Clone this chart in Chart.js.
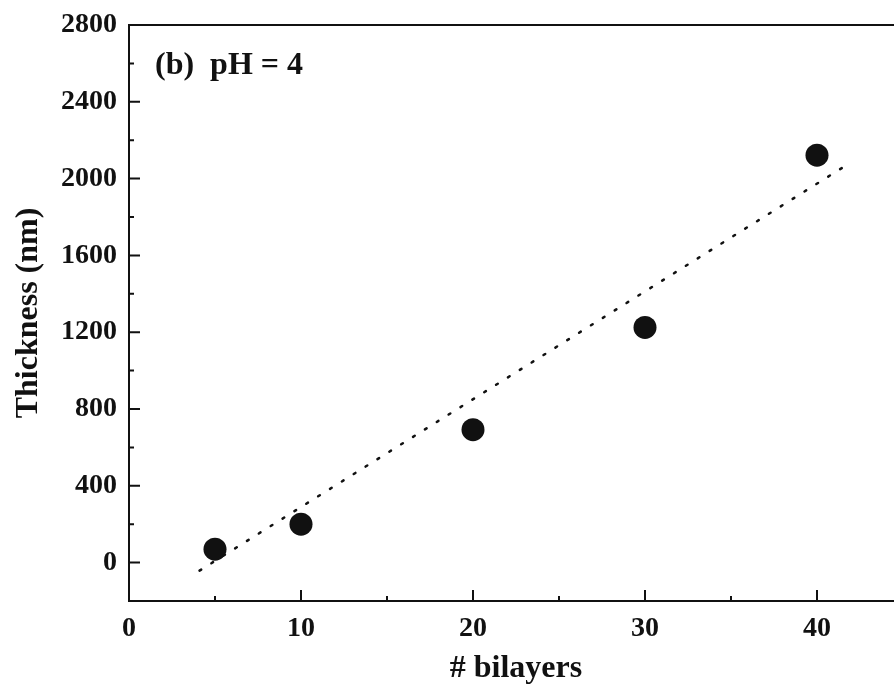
<!DOCTYPE html>
<html lang="en">
<head>
<meta charset="UTF-8">
<title>Thickness vs bilayers</title>
<script src="https://cdn.jsdelivr.net/npm/chart.js@4"></script>
<style>
  html, body { margin: 0; padding: 0; background: #fff; overflow: hidden; }
  .wrap { width: 920px; height: 688px; position: relative; }
</style>
</head>
<body>
<div class="wrap"><canvas id="chart"></canvas></div>
<script>
// data
const bilayers = [5, 10, 20, 30, 40];
const thickness = [70, 200, 692, 1225, 2122];
const fitX = [4.1, 41.8];
const fitY = [-42, 2075];

const xTicks = [0, 10, 20, 30, 40];
const xMinor = [5, 15, 25, 35];
const yTicks = [0, 400, 800, 1200, 1600, 2000, 2400, 2800];
const yMinor = [-200, 200, 600, 1000, 1400, 1800, 2200, 2600];

const ink = '#111';
const serif = "'Liberation Serif', 'Times New Roman', serif";

// frame + inward ticks
const framePlugin = {
  id: 'frame',
  afterDraw(chart) {
    const { ctx, chartArea: a, scales: { x, y } } = chart;
    ctx.save();
    ctx.strokeStyle = ink;
    ctx.lineWidth = 2;
    ctx.strokeRect(a.left, a.top, a.right - a.left, a.bottom - a.top);
    ctx.beginPath();
    xTicks.forEach(v => { const px = x.getPixelForValue(v); ctx.moveTo(px, a.bottom); ctx.lineTo(px, a.bottom - 11); });
    xMinor.forEach(v => { const px = x.getPixelForValue(v); ctx.moveTo(px, a.bottom); ctx.lineTo(px, a.bottom - 5); });
    yTicks.forEach(v => { const py = y.getPixelForValue(v); ctx.moveTo(a.left, py); ctx.lineTo(a.left + 11, py); });
    yMinor.forEach(v => { const py = y.getPixelForValue(v); ctx.moveTo(a.left, py); ctx.lineTo(a.left + 5, py); });
    ctx.stroke();
    // panel label
    ctx.fillStyle = ink;
    ctx.font = 'bold 32px ' + serif;
    ctx.textBaseline = 'alphabetic';
    ctx.fillText('(b)  pH = 4', a.left + 26, a.top + 49);
    ctx.restore();
  }
};

new Chart(document.getElementById('chart'), {
  type: 'scatter',
  data: {
    datasets: [
      {
        type: 'line',
        data: fitX.map((v, i) => ({ x: v, y: fitY[i] })),
        borderColor: ink,
        borderWidth: 2.5,
        borderDash: [2, 12],
        borderCapStyle: 'round',
        pointRadius: 0,
        fill: false
      },
      {
        data: bilayers.map((v, i) => ({ x: v, y: thickness[i] })),
        backgroundColor: ink,
        borderWidth: 0,
        pointRadius: 11.5,
        pointHoverRadius: 11.5
      }
    ]
  },
  options: {
    responsive: true,
    maintainAspectRatio: false,
    animation: false,
    events: [],
    layout: { padding: { left: 0, top: 25, right: 17, bottom: 0 } },
    plugins: { legend: { display: false }, tooltip: { enabled: false } },
    scales: {
      x: {
        type: 'linear',
        min: 0, max: 45,
        afterBuildTicks: s => { s.ticks = xTicks.map(v => ({ value: v })); },
        afterFit: s => { s.height = 87; s.paddingLeft = 0; s.paddingRight = 0; },
        grid: { display: false, drawTicks: false },
        border: { display: false },
        ticks: { color: ink, padding: 11, callback: v => String(v),
                 font: { family: serif, size: 28, weight: 'bold' } },
        title: { display: true, text: '# bilayers', color: ink, padding: { top: 0, bottom: 0 },
                 font: { family: serif, size: 32, weight: 'bold' } }
      },
      y: {
        type: 'linear',
        min: -200, max: 2800,
        afterBuildTicks: s => { s.ticks = yTicks.map(v => ({ value: v })); },
        afterFit: s => { s.width = 129; s.paddingTop = 0; s.paddingBottom = 0; },
        grid: { display: false, drawTicks: false },
        border: { display: false },
        ticks: { color: ink, padding: 12, callback: v => String(v),
                 font: { family: serif, size: 28, weight: 'bold' } },
        title: { display: true, text: 'Thickness (nm)', color: ink, padding: { top: 10, bottom: 0 },
                 font: { family: serif, size: 32, weight: 'bold' } }
      }
    }
  },
  plugins: [framePlugin]
});
</script>
</body>
</html>
